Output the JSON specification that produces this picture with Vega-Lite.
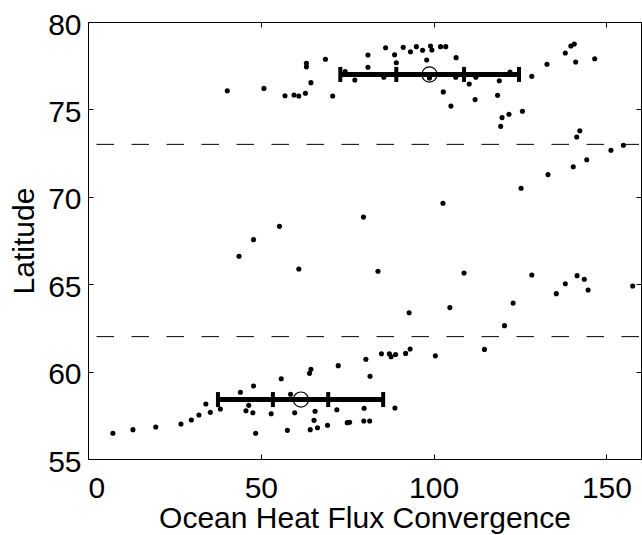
{
  "$schema": "https://vega.github.io/schema/vega-lite/v6.json",
  "width": 553,
  "height": 437,
  "autosize": "none",
  "padding": {"left": 88, "top": 22, "right": 1, "bottom": 76},
  "background": "white",
  "config": {
    "view": {"stroke": "black", "strokeWidth": 1},
    "font": "Liberation Sans",
    "axis": {
      "domain": false,
      "grid": false,
      "ticks": true,
      "tickSize": -5,
      "tickColor": "black",
      "tickWidth": 1,
      "labelColor": "black",
      "labelFont": "Liberation Sans",
      "labelFontSize": 30,
      "titleFont": "Liberation Sans",
      "titleFontSize": 30,
      "titleFontWeight": "normal",
      "titleColor": "black"
    }
  },
  "datasets": {
    "pts": [
      {"flux": 40.3, "lat": 76.07}, {"flux": 50.9, "lat": 76.2}, {"flux": 57.0, "lat": 75.78}, {"flux": 59.6, "lat": 75.82},
      {"flux": 61.0, "lat": 75.77}, {"flux": 62.9, "lat": 75.92}, {"flux": 63.2, "lat": 77.64}, {"flux": 63.2, "lat": 77.44},
      {"flux": 64.5, "lat": 76.53}, {"flux": 68.7, "lat": 77.87}, {"flux": 70.8, "lat": 75.77}, {"flux": 74.4, "lat": 77.16},
      {"flux": 77.2, "lat": 76.68}, {"flux": 81.0, "lat": 78.11}, {"flux": 81.0, "lat": 77.41}, {"flux": 85.6, "lat": 76.84},
      {"flux": 86.1, "lat": 78.53}, {"flux": 88.7, "lat": 78.13}, {"flux": 89.2, "lat": 77.67}, {"flux": 91.2, "lat": 78.55},
      {"flux": 93.3, "lat": 78.30}, {"flux": 95.0, "lat": 78.59}, {"flux": 96.8, "lat": 78.38}, {"flux": 98.0, "lat": 77.83},
      {"flux": 99.1, "lat": 78.63}, {"flux": 99.5, "lat": 78.40}, {"flux": 102.0, "lat": 78.59}, {"flux": 103.5, "lat": 78.59},
      {"flux": 98.8, "lat": 76.8}, {"flux": 106.5, "lat": 77.96}, {"flux": 106.4, "lat": 76.84}, {"flux": 102.8, "lat": 76.0},
      {"flux": 105.0, "lat": 75.19}, {"flux": 110.3, "lat": 76.45}, {"flux": 112.2, "lat": 76.84}, {"flux": 112.0, "lat": 75.56},
      {"flux": 118.5, "lat": 75.81}, {"flux": 119.0, "lat": 76.64}, {"flux": 122.1, "lat": 77.14}, {"flux": 119.8, "lat": 74.53},
      {"flux": 119.4, "lat": 74.03}, {"flux": 121.8, "lat": 74.72}, {"flux": 125.7, "lat": 74.89}, {"flux": 128.4, "lat": 76.89},
      {"flux": 132.8, "lat": 77.58}, {"flux": 138.1, "lat": 78.23}, {"flux": 139.7, "lat": 78.63}, {"flux": 140.7, "lat": 78.74},
      {"flux": 141.1, "lat": 77.71}, {"flux": 146.6, "lat": 77.90}, {"flux": 142.3, "lat": 73.78}, {"flux": 141.4, "lat": 73.42},
      {"flux": 151.3, "lat": 72.66}, {"flux": 154.9, "lat": 72.95}, {"flux": 144.3, "lat": 72.12}, {"flux": 140.4, "lat": 71.72},
      {"flux": 133.1, "lat": 71.27}, {"flux": 125.3, "lat": 70.49}, {"flux": 43.7, "lat": 66.6}, {"flux": 47.9, "lat": 67.55},
      {"flux": 55.4, "lat": 68.31}, {"flux": 61.0, "lat": 65.87}, {"flux": 79.7, "lat": 68.84}, {"flux": 83.9, "lat": 65.74},
      {"flux": 102.7, "lat": 69.63}, {"flux": 108.8, "lat": 65.64}, {"flux": 128.4, "lat": 65.53}, {"flux": 92.9, "lat": 63.37},
      {"flux": 104.7, "lat": 63.66}, {"flux": 123.0, "lat": 63.92}, {"flux": 120.5, "lat": 62.63}, {"flux": 135.5, "lat": 64.46},
      {"flux": 138.1, "lat": 65.03}, {"flux": 141.5, "lat": 65.49}, {"flux": 143.6, "lat": 65.28}, {"flux": 144.7, "lat": 64.67},
      {"flux": 157.6, "lat": 64.9}, {"flux": 80.4, "lat": 60.7}, {"flux": 84.9, "lat": 61.02}, {"flux": 87.2, "lat": 61.02},
      {"flux": 87.7, "lat": 60.85}, {"flux": 89.0, "lat": 60.98}, {"flux": 91.9, "lat": 61.04}, {"flux": 93.2, "lat": 61.29},
      {"flux": 100.5, "lat": 60.9}, {"flux": 114.7, "lat": 61.27}, {"flux": 7.2, "lat": 56.47}, {"flux": 13.0, "lat": 56.68},
      {"flux": 19.6, "lat": 56.83}, {"flux": 26.9, "lat": 57.0}, {"flux": 29.9, "lat": 57.23}, {"flux": 32.1, "lat": 57.52},
      {"flux": 34.1, "lat": 58.15}, {"flux": 35.4, "lat": 57.67}, {"flux": 38.3, "lat": 57.86}, {"flux": 44.1, "lat": 58.82},
      {"flux": 46.5, "lat": 58.07}, {"flux": 45.7, "lat": 57.76}, {"flux": 47.7, "lat": 57.65}, {"flux": 47.9, "lat": 59.18},
      {"flux": 48.5, "lat": 56.47}, {"flux": 53.0, "lat": 57.59}, {"flux": 55.9, "lat": 59.59}, {"flux": 57.7, "lat": 56.64},
      {"flux": 58.6, "lat": 58.70}, {"flux": 59.8, "lat": 57.65}, {"flux": 64.5, "lat": 60.13}, {"flux": 64.1, "lat": 59.90},
      {"flux": 65.7, "lat": 57.73}, {"flux": 65.4, "lat": 57.21}, {"flux": 64.3, "lat": 56.68}, {"flux": 66.4, "lat": 56.79},
      {"flux": 69.3, "lat": 56.93}, {"flux": 72.0, "lat": 57.82}, {"flux": 72.4, "lat": 60.34}, {"flux": 75.0, "lat": 57.08},
      {"flux": 75.7, "lat": 57.1}, {"flux": 81.6, "lat": 59.73}, {"flux": 79.9, "lat": 57.9}, {"flux": 79.8, "lat": 57.17},
      {"flux": 81.5, "lat": 57.17}, {"flux": 88.8, "lat": 57.92}
    ],
    "stats": [
      {"lat": 77.0, "mean": 98.8, "lo": 73.0, "hi": 124.7, "lo_in": 89.2, "hi_in": 108.8},
      {"lat": 58.4, "mean": 61.6, "lo": 37.6, "hi": 85.4, "lo_in": 53.5, "hi_in": 69.5}
    ],
    "bounds": [{"lat": 73}, {"lat": 62}]
  },
  "layer": [
    {
      "data": {"name": "pts"},
      "mark": {"type": "circle", "size": 26, "color": "black", "opacity": 1},
      "encoding": {
        "x": {"field": "flux", "type": "quantitative", "scale": {"domain": [0, 160], "nice": false, "zero": false},
              "axis": {"orient": "bottom", "values": [0, 50, 100, 150], "labelPadding": 19, "title": "Ocean Heat Flux Convergence", "titlePadding": 0}},
        "y": {"field": "lat", "type": "quantitative", "scale": {"domain": [55, 80], "nice": false, "zero": false},
              "axis": {"orient": "left", "values": [55, 60, 65, 70, 75, 80], "labelPadding": 12, "labelOffset": 3, "title": "Latitude", "titlePadding": 8}}
      }
    },
    {
      "data": {"name": "bounds"},
      "mark": {"type": "rule", "color": "black", "strokeWidth": 1, "strokeDash": [17.5, 17.5], "strokeDashOffset": -2},
      "encoding": {
        "y": {"field": "lat", "type": "quantitative", "scale": {"domain": [55, 80], "nice": false, "zero": false}, "axis": null}
      }
    },
    {
      "data": {"name": "stats"},
      "mark": {"type": "rule", "color": "black", "strokeWidth": 5},
      "encoding": {
        "x": {"field": "lo", "type": "quantitative", "scale": {"domain": [0, 160], "nice": false, "zero": false}, "axis": null},
        "x2": {"field": "hi"},
        "y": {"field": "lat", "type": "quantitative", "scale": {"domain": [55, 80], "nice": false, "zero": false}, "axis": null}
      }
    },
    {
      "data": {"name": "stats"},
      "transform": [{"fold": ["lo", "hi", "lo_in", "hi_in"], "as": ["kind", "val"]}],
      "mark": {"type": "tick", "orient": "vertical", "color": "black", "size": 15, "thickness": 4, "opacity": 1},
      "encoding": {
        "x": {"field": "val", "type": "quantitative", "scale": {"domain": [0, 160], "nice": false, "zero": false}, "axis": null},
        "y": {"field": "lat", "type": "quantitative", "scale": {"domain": [55, 80], "nice": false, "zero": false}, "axis": null}
      }
    },
    {
      "data": {"name": "stats"},
      "mark": {"type": "point", "shape": "circle", "filled": false, "size": 230, "stroke": "black", "strokeWidth": 1.2, "opacity": 1},
      "encoding": {
        "x": {"field": "mean", "type": "quantitative", "scale": {"domain": [0, 160], "nice": false, "zero": false},
              "axis": {"orient": "top", "values": [0, 50, 100, 150], "labels": false, "title": null}},
        "y": {"field": "lat", "type": "quantitative", "scale": {"domain": [55, 80], "nice": false, "zero": false},
              "axis": {"orient": "right", "values": [55, 60, 65, 70, 75, 80], "labels": false, "title": null}}
      }
    }
  ],
  "resolve": {"axis": {"x": "independent", "y": "independent"}}
}
